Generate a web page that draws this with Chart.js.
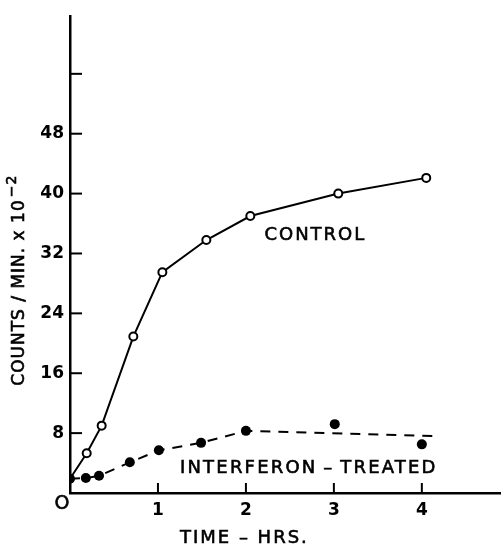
<!DOCTYPE html>
<html>
<head>
<meta charset="utf-8">
<script src="https://cdn.jsdelivr.net/npm/chart.js@4/dist/chart.umd.min.js"></script>
<style>
  body { margin: 0; background: #fff; }
  #wrap { width: 501px; height: 545px; }
</style>
</head>
<body>
<div id="wrap"><canvas id="myChart" width="501" height="545"></canvas></div>
<script>
// control culture (open circles)
const controlHours = [0, 0.19, 0.36, 0.72, 1.05, 1.55, 2.05, 3.05, 4.05];
const controlCounts = [1.9, 5.3, 9.0, 20.9, 29.5, 33.8, 37.0, 40.0, 42.1];

// interferon-treated (filled dots)
const treatedHours = [0, 0.18, 0.33, 0.68, 1.01, 1.49, 2.0, 3.01, 4.0];
const treatedCounts = [1.9, 2.0, 2.3, 4.1, 5.7, 6.7, 8.3, 9.2, 6.5];

// dashed curve drawn through the treated points
const treatedLineHours = [0, 0.18, 0.33, 0.68, 1.01, 1.49, 2.0, 4.18];
const treatedLineCounts = [1.9, 2.0, 2.3, 4.1, 5.7, 6.7, 8.3, 7.6];

// ticks
const yTickMarks = [8, 16, 24, 32, 40, 48, 56];
const yTickLabels = ['8', '16', '24', '32', '40', '48', ''];
const xTickMarks = [1, 2, 3, 4];
const xTickLabels = ['1', '2', '3', '4'];

const FONT = '"DejaVu Sans", sans-serif';

function toPoints(xs, ys) {
    return xs.map((x, i) => ({ x: x, y: ys[i] }));
}

// slightly heavier than regular, like the printed lettering
function inkText(ctx, txt, x, y) {
    ctx.fillText(txt, x, y);
    ctx.strokeText(txt, x, y);
}

// tick marks pointing into the plot + free text
const paperPlugin = {
    id: 'paper',
    afterDraw(chart) {
        const ctx = chart.ctx;
        const xs = chart.scales.x;
        const ys = chart.scales.y;
        const area = chart.chartArea;
        ctx.save();
        ctx.strokeStyle = '#000';
        ctx.lineWidth = 2;
        yTickMarks.forEach(v => {
            const py = ys.getPixelForValue(v);
            ctx.beginPath();
            ctx.moveTo(area.left, py);
            ctx.lineTo(area.left + 12, py);
            ctx.stroke();
        });
        xTickMarks.forEach(v => {
            const px = xs.getPixelForValue(v);
            ctx.beginPath();
            ctx.moveTo(px, area.bottom);
            ctx.lineTo(px, area.bottom - 10);
            ctx.stroke();
        });

        ctx.fillStyle = '#000';
        ctx.lineWidth = 0.6;
        ctx.font = '18px ' + FONT;
        ctx.textBaseline = 'middle';
        ctx.textAlign = 'left';
        ctx.letterSpacing = '2px';
        inkText(ctx, 'CONTROL', xs.getPixelForValue(2.21), ys.getPixelForValue(34.4));
        ctx.letterSpacing = '2.2px';
        inkText(ctx, 'INTERFERON\u2009–\u2009TREATED', xs.getPixelForValue(1.25), ys.getPixelForValue(3.3));
        ctx.letterSpacing = '2px';
        inkText(ctx, 'TIME – HRS.', xs.getPixelForValue(1.25), area.bottom + 45);
        ctx.letterSpacing = '0px';

        // origin label
        ctx.textAlign = 'center';
        ctx.font = '19px ' + FONT;
        inkText(ctx, 'O', xs.getPixelForValue(0) - 8, area.bottom + 11);

        // y axis title
        ctx.translate(18, ys.getPixelForValue(28.3));
        ctx.rotate(-Math.PI / 2);
        ctx.font = '17px ' + FONT;
        ctx.letterSpacing = '1px';
        const main = 'COUNTS / MIN. x 10';
        const sup = '−2';
        const w1 = ctx.measureText(main).width;
        ctx.font = '14px ' + FONT;
        const w2 = ctx.measureText(sup).width;
        const start = -(w1 + w2) / 2;
        ctx.textAlign = 'left';
        ctx.font = '17px ' + FONT;
        inkText(ctx, main, start, 2);
        ctx.font = '14px ' + FONT;
        inkText(ctx, sup, start + w1 + 2, -6);
        ctx.restore();
    }
};

const ctx = document.getElementById('myChart').getContext('2d');

const myChart = new Chart(ctx, {
    type: 'scatter',
    data: {
        datasets: [
            {
                label: 'Control',
                data: toPoints(controlHours, controlCounts),
                showLine: true,
                borderColor: '#000',
                borderWidth: 2,
                pointRadius: controlHours.map((h, i) => i === 0 ? 0 : 4),
                pointBackgroundColor: '#fff',
                pointBorderColor: '#000',
                pointBorderWidth: 2,
                order: 2
            },
            {
                label: 'Interferon-treated line',
                data: toPoints(treatedLineHours, treatedLineCounts),
                showLine: true,
                borderColor: '#000',
                borderWidth: 2,
                borderDash: [10, 8],
                pointRadius: 0,
                order: 3
            },
            {
                label: 'Interferon-treated',
                data: toPoints(treatedHours, treatedCounts),
                showLine: false,
                pointRadius: 5,
                pointBackgroundColor: '#000',
                pointBorderColor: '#000',
                pointBorderWidth: 0,
                order: 1
            }
        ]
    },
    options: {
        responsive: false,
        animation: false,
        layout: { autoPadding: false, padding: { top: 15, right: 0, left: 0, bottom: 0 } },
        plugins: {
            legend: { display: false },
            tooltip: { enabled: false }
        },
        scales: {
            x: {
                type: 'linear',
                min: 0,
                max: 4.9,
                grid: { display: false, drawTicks: false },
                border: { display: true, color: '#000', width: 2.5 },
                afterBuildTicks(scale) {
                    scale.ticks = xTickMarks.map(v => ({ value: v }));
                },
                ticks: {
                    padding: 7,
                    color: '#000',
                    font: { family: FONT, size: 17, weight: 'bold' },
                    callback: function (value) {
                        const i = xTickMarks.indexOf(value);
                        return i >= 0 ? xTickLabels[i] : '';
                    }
                },
                afterFit(scale) { scale.height = 52; }
            },
            y: {
                type: 'linear',
                min: 0,
                max: 63.7,
                grid: { display: false, drawTicks: false },
                border: { display: true, color: '#000', width: 2.5 },
                afterBuildTicks(scale) {
                    scale.ticks = yTickMarks.map(v => ({ value: v }));
                },
                ticks: {
                    padding: 6,
                    color: '#000',
                    font: { family: FONT, size: 17, weight: 'bold' },
                    callback: function (value) {
                        const i = yTickMarks.indexOf(value);
                        return i >= 0 ? yTickLabels[i] : '';
                    }
                },
                afterFit(scale) { scale.width = 70; }
            }
        }
    },
    plugins: [paperPlugin]
});
</script>
</body>
</html>
